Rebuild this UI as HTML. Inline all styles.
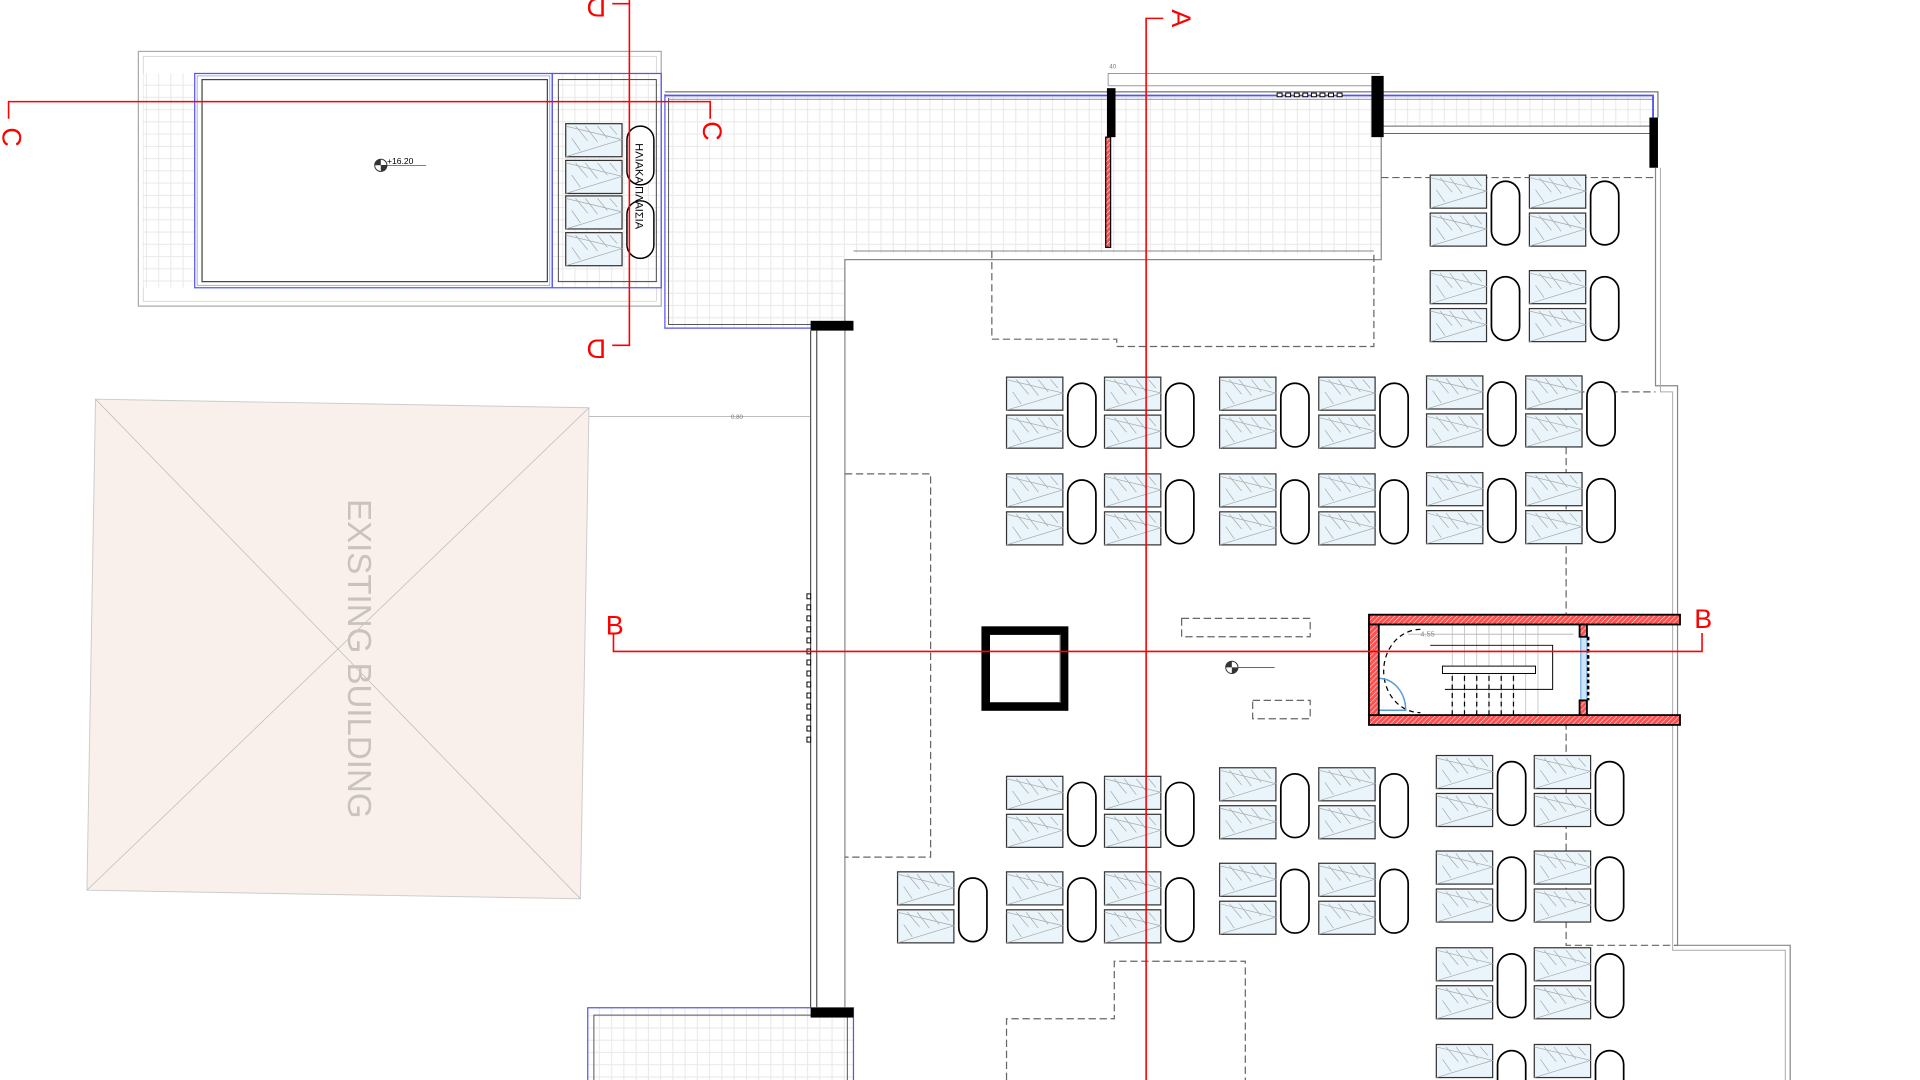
<!DOCTYPE html>
<html><head><meta charset="utf-8"><style>
html,body{margin:0;padding:0;background:#fff;width:1920px;height:1080px;overflow:hidden;}
svg{display:block;position:absolute;left:0;top:0;}
text{font-family:"Liberation Sans","DejaVu Sans",sans-serif;}
</style></head><body>
<svg width="1920" height="1080" viewBox="0 0 1568 882" preserveAspectRatio="none" xmlns="http://www.w3.org/2000/svg">
<defs>
<pattern id="tile" width="10" height="10" patternUnits="userSpaceOnUse">
<rect width="10" height="10" fill="#fff"/>
<path d="M0 9.5H10M9.5 0V10" stroke="#e8e8e8" stroke-width="0.8"/>
</pattern>
<pattern id="hatch" width="3" height="3" patternUnits="userSpaceOnUse" patternTransform="rotate(45)">
<rect width="3" height="3" fill="#ff5050"/>
<path d="M0 0V3" stroke="#fff" stroke-width="0.8"/>
</pattern>
<g id="pn">
<rect x="0" y="0" width="46" height="27" fill="#eaf5fb" stroke="#333" stroke-width="1"/>
<path d="M0 27 L46 13 L0 2 M8 2 L18 14 M16 2 L26 15 M26 2 L34 12 M36 2 L42 9 M5 12 L12 22" stroke="#aaa" stroke-width="0.6" fill="none"/>
</g>
<g id="u">
<use href="#pn"/>
<use href="#pn" y="31"/>
<rect x="50" y="5" width="23" height="52" rx="11.5" fill="#fff" stroke="#000" stroke-width="1.4"/>
</g>
</defs>

<polygon points="78,326 481,333 474,734 71,727" fill="#f9f0eb" stroke="#ccc" stroke-width="0.8"/>
<path d="M78 326 L474 734 M481 333 L71 727" stroke="#bbb" stroke-width="0.6"/>
<text x="0" y="0" transform="translate(284,538) rotate(90)" font-size="27" fill="#c9c2bf" text-anchor="middle">EXISTING BUILDING</text>
<path d="M481 340 H662" stroke="#aaa" stroke-width="0.6"/>
<text x="597" y="342" font-size="5" fill="#777">0.80</text>

<rect x="113" y="42" width="427" height="208" fill="#fff" stroke="#aaa" stroke-width="1"/>
<rect x="117" y="46" width="419" height="200" fill="none" stroke="#ccc" stroke-width="0.6"/>
<rect x="117" y="60" width="42" height="175" fill="url(#tile)"/>
<rect x="451" y="60" width="89" height="175" fill="url(#tile)"/>
<rect x="159" y="60" width="292" height="175" fill="#fff" stroke="#5555ee" stroke-width="1"/>
<rect x="161" y="62" width="288" height="171" fill="none" stroke="#8888ff" stroke-width="0.6"/>
<rect x="165" y="65" width="282" height="165" fill="none" stroke="#444" stroke-width="1"/>
<rect x="451" y="60" width="89" height="175" fill="none" stroke="#5555ee" stroke-width="1"/>
<rect x="456" y="65" width="80" height="165" fill="none" stroke="#444" stroke-width="0.8"/>
<use href="#pn" x="462" y="101"/><use href="#pn" x="462" y="131"/><use href="#pn" x="462" y="160"/><use href="#pn" x="462" y="190"/>
<rect x="512" y="103" width="22" height="48" rx="11" fill="#fff" stroke="#000" stroke-width="1.2"/>
<rect x="512" y="164" width="22" height="47" rx="11" fill="#fff" stroke="#000" stroke-width="1.2"/>
<text transform="translate(519,117) rotate(90)" font-size="9" fill="#000">ΗΛΙΑΚΑ ΠΛΑΙΣΙΑ</text>
<circle cx="311" cy="135" r="5" fill="#fff" stroke="#333" stroke-width="0.8"/>
<path d="M311 130 A5 5 0 0 0 306 135 H311Z M311 135 V140 A5 5 0 0 0 316 135Z" fill="#333"/>
<path d="M311 135 H348" stroke="#333" stroke-width="0.6"/>
<text x="316" y="134" font-size="7" fill="#000">+16.20</text>

<path d="M543 77 H1352 V103 H1128 V207 H690 V268 H543 Z" fill="url(#tile)"/>
<path d="M543 77 V268 H662" fill="none" stroke="#5555ee" stroke-width="1"/>
<path d="M546 80 V265 H662" fill="none" stroke="#555" stroke-width="0.8"/>
<path d="M543 75 H1354 V96" fill="none" stroke="#555" stroke-width="0.8"/>
<path d="M543 78 H1350 V96" fill="none" stroke="#5555ee" stroke-width="1.5"/>
<path d="M546 81 H1350" stroke="#555" stroke-width="0.6"/>
<path d="M1128 103 H1350 M1128 109 H1350" stroke="#666" stroke-width="0.8"/>
<path d="M690 270 V212 H1128 V112 M690 882 V212" fill="none" stroke="#888" stroke-width="1"/>
<path d="M697 205 H1122" fill="none" stroke="#888" stroke-width="0.8"/>
<path d="M905 70 V60 H1127 M905 70 H1127" fill="none" stroke="#999" stroke-width="0.8"/>
<text x="906" y="56" font-size="5" fill="#777">40</text>
<g fill="#fff" stroke="#000" stroke-width="0.8">
<rect x="1043" y="76" width="4" height="3"/><rect x="1050" y="76" width="4" height="3"/><rect x="1057" y="76" width="4" height="3"/><rect x="1064" y="76" width="4" height="3"/><rect x="1071" y="76" width="4" height="3"/><rect x="1078" y="76" width="4" height="3"/><rect x="1085" y="76" width="4" height="3"/><rect x="1092" y="76" width="4" height="3"/>
</g>
<g fill="#000">
<rect x="904" y="72" width="7" height="40"/>
<rect x="1120" y="62" width="10" height="50"/>
<rect x="1347" y="96" width="7" height="41"/>
<rect x="662" y="262" width="35" height="8"/>
</g>
<rect x="903" y="112" width="4" height="90" fill="url(#hatch)" stroke="#000" stroke-width="1"/>

<path d="M662 270 V823 M667 270 V823" stroke="#555" stroke-width="1" fill="none"/>
<path d="M1352 137 V315 H1370 V772 H1462 V882" stroke="#888" stroke-width="1" fill="none"/>
<path d="M1356 137 V320 H1366 V776 H1458 V882" stroke="#aaa" stroke-width="0.8" fill="none"/>
<g fill="#fff" stroke="#000" stroke-width="0.8">
<rect x="659" y="485" width="3" height="4"/><rect x="659" y="494" width="3" height="4"/><rect x="659" y="503" width="3" height="4"/><rect x="659" y="512" width="3" height="4"/><rect x="659" y="521" width="3" height="4"/><rect x="659" y="530" width="3" height="4"/><rect x="659" y="539" width="3" height="4"/><rect x="659" y="548" width="3" height="4"/><rect x="659" y="557" width="3" height="4"/><rect x="659" y="566" width="3" height="4"/><rect x="659" y="575" width="3" height="4"/><rect x="659" y="584" width="3" height="4"/><rect x="659" y="593" width="3" height="4"/><rect x="659" y="602" width="3" height="4"/>
</g>

<g fill="none" stroke="#666" stroke-width="1" stroke-dasharray="6,3">
<path d="M810 205 V277 H912 V283 H1122 V205"/>
<path d="M690 387 H760 V700 H690"/>
<path d="M1128 145 H1352"/>
<path d="M1279 320 H1352 M1279 320 V772 H1370"/>
<path d="M822 882 V832 H910 V785 H1017 V882"/>
<rect x="965" y="505" width="105" height="15"/>
<rect x="1023" y="572" width="47" height="15"/>
</g>

<rect x="805" y="515" width="64" height="62" fill="#fff" stroke="#000" stroke-width="7"/>
<path d="M866 518 V574" stroke="#555" stroke-width="1"/>

<circle cx="1006" cy="545" r="5" fill="#fff" stroke="#333" stroke-width="0.8"/>
<path d="M1006 540 A5 5 0 0 0 1001 545 H1006Z M1006 545 V550 A5 5 0 0 0 1011 545Z" fill="#333"/>
<path d="M1011 545 H1041" stroke="#333" stroke-width="0.6"/>

<rect x="1126" y="510" width="164" height="74" fill="#fff"/>
<g stroke="#bbb" stroke-width="0.6">
<path d="M1186 510 V584 M1196 510 V584 M1206 510 V584 M1216 510 V584 M1226 510 V584 M1236 510 V584 M1246 510 V584 M1256 510 V584"/>
</g>
<path d="M1150 518 H1285" stroke="#bbb" stroke-width="0.8"/>
<text x="1160" y="520" font-size="6" fill="#888">4.55</text>
<path d="M1168 527 H1268 V563 H1180" fill="none" stroke="#000" stroke-width="0.8"/>
<rect x="1178" y="544" width="76" height="6" fill="#fff" stroke="#000" stroke-width="0.8"/>
<g stroke="#000" stroke-width="1" stroke-dasharray="4,3">
<path d="M1186 552 V584 M1196 552 V584 M1206 552 V584 M1216 552 V584 M1226 552 V584 M1236 552 V584"/>
<path d="M1160 514 A30 34 0 0 0 1160 582" fill="none"/>
</g>
<path d="M1126 554 A22 26 0 0 1 1148 580 H1126" fill="none" stroke="#5599dd" stroke-width="1.2"/>
<rect x="1291" y="520" width="5" height="52" fill="#cfe5f7" stroke="#5599dd" stroke-width="0.8"/>
<path d="M1297 520 V572" stroke="#000" stroke-width="2" stroke-dasharray="3,2"/>
<g fill="url(#hatch)" stroke="#000" stroke-width="1.5">
<rect x="1118" y="502" width="254" height="8"/>
<rect x="1118" y="584" width="254" height="8"/>
<rect x="1118" y="510" width="8" height="74"/>
<rect x="1290" y="510" width="6" height="10"/>
<rect x="1290" y="572" width="6" height="12"/>
</g>

<use href="#u" x="1168" y="143"/><use href="#u" x="1249" y="143"/>
<use href="#u" x="1168" y="221"/><use href="#u" x="1249" y="221"/>
<use href="#u" x="822" y="308"/><use href="#u" x="902" y="308"/><use href="#u" x="996" y="308"/><use href="#u" x="1077" y="308"/><use href="#u" x="1165" y="307"/><use href="#u" x="1246" y="307"/>
<use href="#u" x="822" y="387"/><use href="#u" x="902" y="387"/><use href="#u" x="996" y="387"/><use href="#u" x="1077" y="387"/><use href="#u" x="1165" y="386"/><use href="#u" x="1246" y="386"/>
<use href="#u" x="822" y="634"/><use href="#u" x="902" y="634"/><use href="#u" x="996" y="627"/><use href="#u" x="1077" y="627"/><use href="#u" x="1173" y="617"/><use href="#u" x="1253" y="617"/>
<use href="#u" x="733" y="712"/><use href="#u" x="822" y="712"/><use href="#u" x="902" y="712"/><use href="#u" x="996" y="705"/><use href="#u" x="1077" y="705"/><use href="#u" x="1173" y="695"/><use href="#u" x="1253" y="695"/>
<use href="#u" x="1173" y="774"/><use href="#u" x="1253" y="774"/>
<use href="#u" x="1173" y="853"/><use href="#u" x="1253" y="853"/>

<rect x="480" y="823" width="217" height="70" fill="url(#tile)" stroke="#5555ee" stroke-width="1"/>
<rect x="485" y="829" width="207" height="60" fill="none" stroke="#555" stroke-width="0.8"/>
<rect x="662" y="823" width="35" height="8" fill="#000"/>

<g stroke="#f00" stroke-width="1.3" fill="none">
<path d="M936 882 V15 H950"/>
<path d="M501 517 V532 H1390 V517"/>
<path d="M7 97 V83 H580 V97"/>
<path d="M514 0 V282 H500 M514 3 H500"/>
</g>
<g fill="#f00" font-size="22">
<text x="963" y="15" text-anchor="middle" dominant-baseline="middle" transform="rotate(90 963 15)">A</text>
<text x="502" y="518" text-anchor="middle">B</text>
<text x="1391" y="513" text-anchor="middle">B</text>
<text transform="translate(8,112) rotate(90)" text-anchor="middle" dominant-baseline="middle">C</text>
<text transform="translate(580,107) rotate(90)" text-anchor="middle" dominant-baseline="middle">C</text>
<text transform="translate(487,4) rotate(180)" text-anchor="middle" dominant-baseline="middle">D</text>
<text transform="translate(487,283) rotate(180)" text-anchor="middle" dominant-baseline="middle">D</text>
</g>
</svg>
</body></html>
